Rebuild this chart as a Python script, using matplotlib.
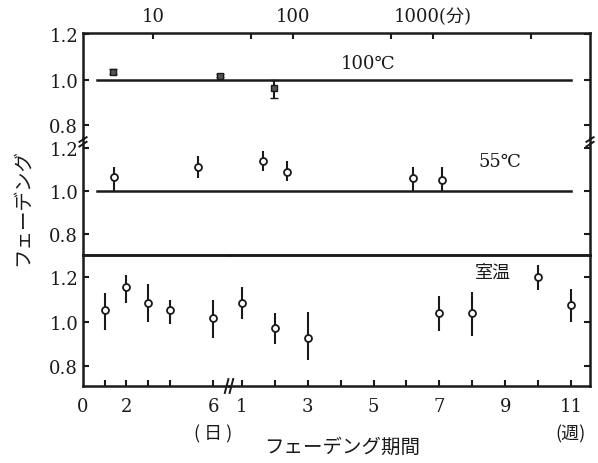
import matplotlib
matplotlib.use("Agg")
import matplotlib.pyplot as plt
import numpy as np

plt.rcParams['font.family'] = ['DejaVu Serif', 'Noto Sans CJK JP']
ink = '#1a1a1a'

# 100C (top scale, minutes)
t100 = [5.2, 30, 73]
v100 = [1.035, 1.018, 0.965]
e100_lo = [0.01, 0.008, 0.045]
e100_hi = [0.01, 0.008, 0.035]

# 55C (top scale, minutes)
t55 = [5.3, 21, 61, 91, 720, 1160]
v55 = [1.064, 1.11, 1.14, 1.09, 1.06, 1.05]
e55_lo = [0.064, 0.05, 0.045, 0.045, 0.06, 0.05]
e55_hi = [0.046, 0.05, 0.045, 0.05, 0.05, 0.06]

# room temperature, days
days = [1, 2, 3, 4, 6]
v_day = [1.053, 1.155, 1.087, 1.053, 1.017]
lo_day = [0.964, 1.084, 1.0, 0.99, 0.93]
hi_day = [1.13, 1.21, 1.17, 1.10, 1.10]

# room temperature, weeks
weeks = [1, 2, 3, 7, 8, 10, 11]
v_wk = [1.087, 0.975, 0.93, 1.04, 1.04, 1.20, 1.077]
lo_wk = [1.015, 0.90, 0.83, 0.96, 0.935, 1.145, 1.0]
hi_wk = [1.155, 1.04, 1.045, 1.115, 1.135, 1.255, 1.146]

top_ticks = [10, 50, 100, 500, 1000, 5000]
top_labels = ['10', '', '100', '', '1000(分)', '']

W, H = 598, 464
fig = plt.figure(figsize=(W / 100, H / 100), dpi=100)

def box(x0, y0, x1, y1):
    return [x0 / W, 1 - y1 / H, (x1 - x0) / W, (y1 - y0) / H]

L, R = 83, 590
ax100 = fig.add_axes(box(L, 34, R, 139))
ax55 = fig.add_axes(box(L, 139, R, 256))
axd = fig.add_axes(box(L, 256, 229, 387))
axw = fig.add_axes(box(229, 256, R, 387))

for ax in (ax100, ax55, axd, axw):
    for s in ax.spines.values():
        s.set_linewidth(1.8)
        s.set_color(ink)
    ax.tick_params(direction='in', length=4, width=1.5, color=ink,
                   labelsize=13, labelcolor=ink)
    ax.set_facecolor('none')

# upper panels
for ax in (ax100, ax55):
    ax.set_xscale('log')
    ax.set_xlim(3.16, 13200)
    ax.axhline(1.0, xmin=0.028, xmax=0.962, color=ink, lw=1.8)
    ax.yaxis.set_ticks_position('both')
    ax.minorticks_off()

ax100.set_ylim(0.745, 1.204)
ax100.set_yticks([0.8, 1.0, 1.2])
ax100.set_yticklabels(['0.8', '1.0', '1.2'])
ax100.spines['bottom'].set_visible(False)
ax100.xaxis.set_ticks_position('top')
ax100.set_xticks(top_ticks)
ax100.set_xticklabels(top_labels)
ax100.tick_params(axis='x', pad=6)
ax100.errorbar(t100, v100, yerr=[e100_lo, e100_hi], fmt='s', ms=4.5,
               color=ink, mfc='#555', ecolor=ink, capsize=3, elinewidth=1.5)
ax100.text(344, 1.075, '100℃', fontsize=13, color=ink, ha='center', va='center')

ax55.set_ylim(0.705, 1.245)
ax55.set_yticks([0.8, 1.0, 1.2])
ax55.set_yticklabels(['0.8', '1.0', '1.2'])
ax55.spines['top'].set_visible(False)
ax55.set_xticks([])
ax55.errorbar(t55, v55, yerr=[e55_lo, e55_hi], fmt='o', ms=5,
              color=ink, mfc='white', mew=1.3, ecolor=ink, elinewidth=1.5)
ax55.text(3010, 1.14, '55℃', fontsize=13, color=ink, ha='center', va='center')

# bottom panels
for ax in (axd, axw):
    ax.set_ylim(0.712, 1.301)
    ax.yaxis.set_ticks_position('both')

axd.set_xlim(0, 6.73)
axd.set_xticks([1, 2, 3, 4, 6])
axd.set_xticklabels(['', '2', '', '', '6'])
axd.set_yticks([0.8, 1.0, 1.2])
axd.set_yticklabels(['0.8', '1.0', '1.2'])
axd.tick_params(axis='y', right=False)
axd.spines['right'].set_visible(False)
axd.tick_params(axis='x', pad=8)
axd.text(0, -0.082, '0', transform=axd.get_xaxis_transform(),
         ha='center', va='top', fontsize=13, color=ink)
axd.text(6, -0.29, '( 日 )', transform=axd.get_xaxis_transform(),
         ha='center', va='top', fontsize=13, color=ink,
         family=['Noto Sans CJK JP'])
yd = np.array(v_day)
axd.errorbar(days, yd, yerr=[yd - np.array(lo_day), np.array(hi_day) - yd],
             fmt='o', ms=5, color=ink, mfc='white', mew=1.3, ecolor=ink,
             elinewidth=1.5)

axw.set_xlim(0.606, 11.58)
axw.set_xticks(range(1, 12))
axw.set_xticklabels([str(w) if w % 2 else '' for w in range(1, 12)])
axw.tick_params(axis='x', pad=8)
axw.set_yticks([0.8, 1.0, 1.2])
axw.tick_params(axis='y', left=False, labelleft=False)
axw.spines['left'].set_visible(False)
yw = np.array(v_wk)
axw.errorbar(weeks, yw, yerr=[yw - np.array(lo_wk), np.array(hi_wk) - yw],
             fmt='o', ms=5, color=ink, mfc='white', mew=1.3, ecolor=ink,
             elinewidth=1.5)
axw.text(8.63, 1.225, '室温', fontsize=13, color=ink, ha='center', va='center',
         family=['Noto Sans CJK JP'])
axw.text(11, -0.29, '(週)', transform=axw.get_xaxis_transform(),
         ha='center', va='top', fontsize=13, color=ink,
         family=['Noto Sans CJK JP'])

# axis break marks
for xf in (L / W, R / W):
    yb = 1 - 141 / H
    fig.lines.append(plt.Line2D([xf - 0.006, xf + 0.006], [yb - 0.004, yb + 0.006],
                                transform=fig.transFigure, color=ink, lw=1.4))
    fig.lines.append(plt.Line2D([xf - 0.006, xf + 0.006], [yb - 0.014, yb - 0.004],
                                transform=fig.transFigure, color=ink, lw=1.4))
xb, yb = 229 / W, 1 - 387 / H
for dx in (-0.004, 0.004):
    fig.lines.append(plt.Line2D([xb + dx - 0.003, xb + dx + 0.003],
                                [yb - 0.015, yb + 0.015],
                                transform=fig.transFigure, color=ink, lw=1.4))

fig.text(22 / W, 1 - 208 / H, 'フェーデング', rotation=90, ha='center',
         va='center', fontsize=14, color=ink, family=['Noto Sans CJK JP'])
fig.text(342 / W, 1 - 447 / H, 'フェーデング期間', ha='center', va='center',
         fontsize=14, color=ink, family=['Noto Sans CJK JP'])

fig.savefig('out.png', dpi=100)
